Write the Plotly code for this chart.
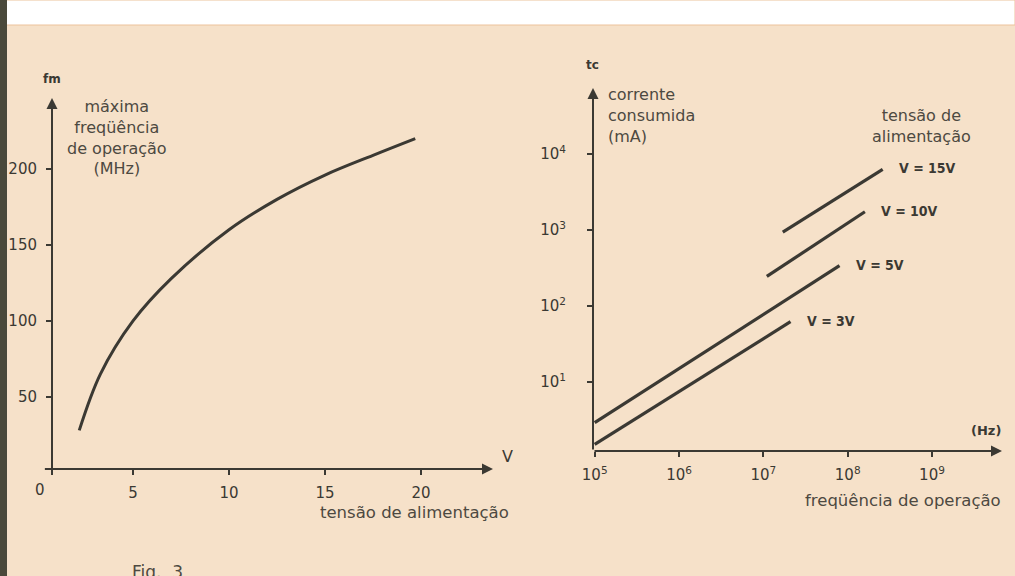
import math
import plotly.graph_objects as go

# Left chart: max operating frequency vs supply voltage
tensao = [2.2, 3.3, 5, 7, 10, 12.5, 15, 17.5, 19.7]
freq_max = [28, 65, 100, 128, 160, 180, 196, 209, 220]
left_xticks = [5, 10, 15, 20]
left_yticks = [50, 100, 150, 200]

# Right chart: current consumption vs frequency, one segment per supply voltage
serie_nomes = ["V = 3V", "V = 5V", "V = 10V", "V = 15V"]
serie_freq = [[1e5, 2.1e7], [1e5, 8e7], [1.1e7, 1.6e8], [1.7e7, 2.6e8]]
serie_corrente = [[1.5, 62], [2.9, 340], [245, 1740], [940, 6300]]
right_xticks = [1e5, 1e6, 1e7, 1e8, 1e9]
right_xtext = ["10<sup>5</sup>", "10<sup>6</sup>", "10<sup>7</sup>", "10<sup>8</sup>", "10<sup>9</sup>"]
right_yticks = [1e1, 1e2, 1e3, 1e4]
right_ytext = ["10<sup>1</sup>", "10<sup>2</sup>", "10<sup>3</sup>", "10<sup>4</sup>"]

ink = "#3b3933"
txt = "#4d4941"
bg = "#f6e1c9"
font = "DejaVu Sans"

W, H = 1015, 576

def px_x(p):
    return p / W

def px_y(p):
    return 1 - p / H

# axis ranges
lx = [0.78, 23.75]
ly = [2.6, 246.7]
rx = [4.98, 9.83]
ry = [0.09, 4.87]

fig = go.Figure()

fig.add_trace(go.Scatter(x=tensao, y=freq_max, mode="lines", line_shape="spline",
                         line=dict(color=ink, width=3), xaxis="x", yaxis="y",
                         showlegend=False, hoverinfo="skip"))

for nome, fx, cy in zip(serie_nomes, serie_freq, serie_corrente):
    fig.add_trace(go.Scatter(x=fx, y=cy, mode="lines", name=nome,
                             line=dict(color=ink, width=3.2), xaxis="x2", yaxis="y2",
                             showlegend=False, hoverinfo="skip"))
    fig.add_annotation(x=math.log10(fx[-1]), y=math.log10(cy[-1]), xref="x2", yref="y2",
                       text=nome, showarrow=False, xanchor="left", xshift=14, yshift=1,
                       font=dict(family="DejaVu Sans Condensed, DejaVu Sans", size=14,
                                 color=ink, weight="bold"))

tick_font = dict(family=font, size=15, color=ink)

common = dict(showgrid=False, zeroline=False, showline=False, linecolor=ink, automargin=False)

fig.update_layout(
    width=W, height=H,
    margin=dict(l=0, r=0, t=0, b=0, autoexpand=False),
    paper_bgcolor=bg, plot_bgcolor="rgba(0,0,0,0)",
    xaxis=dict(domain=[px_x(52), px_x(493)], range=lx, anchor="y", tickvals=left_xticks,
               ticks="outside", ticklen=5, tickwidth=2, tickcolor=ink,
               tickfont=tick_font, ticklabelstandoff=5, **common),
    yaxis=dict(domain=[px_y(469), px_y(98)], range=ly, anchor="x", tickvals=left_yticks,
               ticks="outside", ticklen=5, tickwidth=2, tickcolor=ink,
               tickfont=tick_font, ticklabelstandoff=6, **common),
    xaxis3=dict(overlaying="x", matches="x", anchor="y", tickvals=left_xticks,
                ticks="inside", ticklen=5, tickwidth=2, tickcolor=ink,
                showticklabels=False, **common),
    yaxis3=dict(overlaying="y", matches="y", anchor="x", tickvals=left_yticks,
                ticks="inside", ticklen=5, tickwidth=2, tickcolor=ink,
                showticklabels=False, **common),
    xaxis2=dict(domain=[px_x(593), px_x(1002)], range=rx, type="log", anchor="y2",
                tickvals=right_xticks, ticktext=right_xtext,
                ticks="outside", ticklen=5, tickwidth=2, tickcolor=ink,
                tickfont=tick_font, ticklabelstandoff=5, **common),
    yaxis2=dict(domain=[px_y(451), px_y(88)], range=ry, type="log", anchor="x2",
                tickvals=right_yticks, ticktext=right_ytext,
                ticks="outside", ticklen=5, tickwidth=2, tickcolor=ink,
                tickfont=tick_font, ticklabelstandoff=18, **common),
    xaxis4=dict(overlaying="x2", matches="x2", type="log", anchor="y2", tickvals=right_xticks,
                ticks="inside", ticklen=5, tickwidth=2, tickcolor=ink,
                showticklabels=False, **common),
    yaxis4=dict(overlaying="y2", matches="y2", type="log", anchor="x2", tickvals=right_yticks,
                ticks="inside", ticklen=5, tickwidth=2, tickcolor=ink,
                showticklabels=False, **common),
)

# axes drawn as arrows (slightly overshooting at the origin, like the hand drawing)
arrow = dict(text="", showarrow=True, arrowhead=2, arrowsize=1.1, arrowwidth=2,
             arrowcolor=ink, standoff=0, startstandoff=0)
fig.add_annotation(x=lx[1], y=ly[0], ax=lx[0] - 0.45, ay=ly[0], xref="x", yref="y",
                   axref="x", ayref="y", **arrow)
fig.add_annotation(x=lx[0], y=ly[1], ax=lx[0], ay=ly[0] - 5, xref="x", yref="y",
                   axref="x", ayref="y", **arrow)
fig.add_annotation(x=rx[1], y=ry[0], ax=rx[0], ay=ry[0], xref="x2", yref="y2",
                   axref="x2", ayref="y2", **arrow)
fig.add_annotation(x=rx[0], y=ry[1], ax=rx[0], ay=ry[0], xref="x2", yref="y2",
                   axref="x2", ayref="y2", **arrow)

def label(x, y, text, size=16, anchor="center", align="center", bold=False, color=txt):
    fig.add_annotation(x=px_x(x), y=px_y(y), xref="paper", yref="paper", text=text,
                       showarrow=False, xanchor=anchor, yanchor="middle", align=align,
                       font=dict(family=font, size=size, color=color,
                                 weight="bold" if bold else "normal"))

label(52, 79, "fm", size=12, bold=True, color=ink)
label(117, 137, "máxima<br>freqüência<br>de operação<br>(MHz)", size=16)
label(40, 490, "0", size=15, color=ink)
label(507, 456, "V", size=16, color=ink)
label(511, 512, "tensão de alimentação", size=16.5, anchor="right")

label(592, 65, "tc", size=12, bold=True, color=ink)
label(606, 115, "corrente<br>consumida<br>(mA)", size=16, anchor="left", align="left")
label(921, 126, "tensão de<br>alimentação", size=16)
label(1003, 430, "(Hz)", size=13, anchor="right", bold=True, color=ink)
label(1003, 500, "freqüência de operação", size=16.5, anchor="right")

label(157, 572, "Fig.  3", size=17)

# scan artefacts: white strip at top, dark binding edge at left
fig.add_shape(type="rect", xref="paper", yref="paper", x0=0, x1=1, y0=px_y(25), y1=1,
              fillcolor="white", line=dict(color="#ecc39c", width=1), layer="below")
fig.add_shape(type="rect", xref="paper", yref="paper", x0=0, x1=px_x(7), y0=0, y1=1,
              fillcolor="#4a493b", line=dict(width=0), layer="above")

fig.write_html("out.html", config={"displayModeBar": False},
               post_script="document.body.style.margin='0';"
                           "document.documentElement.style.overflow='hidden';")
